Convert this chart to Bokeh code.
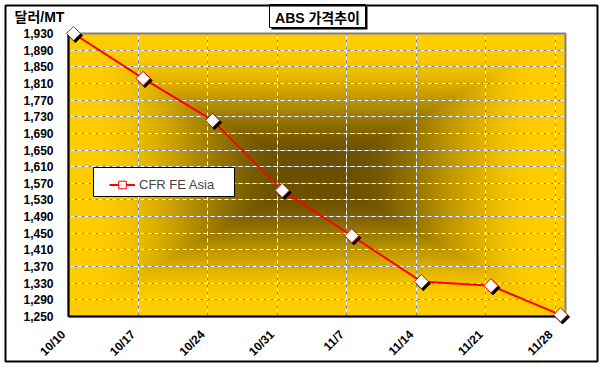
import math
from datetime import date
import numpy as np
from bokeh.plotting import figure
from bokeh.models import (FixedTicker, NumeralTickFormatter, Grid, Label, Legend,
                          LegendItem, Range1d, BoxAnnotation, ColumnDataSource,
                          LinearAxis)
from bokeh.transform import dodge
from bokeh.embed import file_html
from bokeh.resources import INLINE

# ---------------- data ----------------
dates = ["10/10", "10/17", "10/24", "10/31", "11/7", "11/14", "11/21", "11/28"]
prices = [1930, 1822, 1721, 1553, 1444, 1334, 1324, 1254]
y_ticks = [1250, 1290, 1330, 1370, 1410, 1450, 1490, 1530, 1570, 1610,
           1650, 1690, 1730, 1770, 1810, 1850, 1890, 1930]
year = 2008
series_name = "CFR FE Asia"
title_text = "ABS 가격추이"
unit_text = "달러/MT"

# ---------------- derived ----------------
def to_date(s):
    m, d = s.split("/")
    return date(year, int(m), int(d))

start = to_date(dates[0])
day_idx = [(to_date(s) - start).days for s in dates]
x_pos = [d + 0.5 for d in day_idx]          # centre of each day slot
x_end = day_idx[-1] + 1
y_lo, y_hi = y_ticks[0], y_ticks[-1]

# layout (canvas pixels); the frame is the whole canvas
W, H = 600, 368
PL, PR, PT, PB = 68, 565, 33, 316             # value-area edges
xs = (PR - PL) / x_end
ys = (PB - PT) / (y_hi - y_lo)
x_range = Range1d(0 - PL / xs, x_end + (W - PR) / xs)
y_range = Range1d(y_lo - (H - PB) / ys, y_hi + PT / ys)

FONT = "Liberation Sans, Noto Sans CJK KR"

p = figure(width=W, height=H, output_backend="svg", toolbar_location=None,
           x_range=x_range, y_range=y_range,
           min_border_left=0, min_border_right=0, min_border_top=0,
           min_border_bottom=0, title=None)
p.border_fill_color = "white"
p.background_fill_color = "white"
p.outline_line_color = None

# gradient background (rectangular "from centre" fill, dark olive -> gold)
ny, nx = PB - PT, PR - PL
yy = np.linspace(-1, 1, ny)[:, None]
xx = np.linspace(-1, 1, nx)[None, :]
t = np.maximum(np.abs(xx), np.abs(yy))
s = np.clip((t - 0.1) / 0.8, 0, 1)
g = s * s * (3 - 2 * s)
dark = (106, 80, 0)
gold = (255, 204, 0)
img = np.empty((ny, nx), dtype=np.uint32)
v = img.view(dtype=np.uint8).reshape((ny, nx, 4))
for c in range(3):
    v[..., c] = (dark[c] + (gold[c] - dark[c]) * g).astype(np.uint8)
v[..., 3] = 255
p.image_rgba(image=[img], x=0, y=y_lo, dw=x_end, dh=y_hi - y_lo, level="image")

# grids: grey base + white dashes
p.xgrid.ticker = FixedTicker(ticks=day_idx)
p.ygrid.ticker = FixedTicker(ticks=y_ticks)
for gr in (p.xgrid, p.ygrid):
    gr.grid_line_color = "#808080"
    gr.grid_line_width = 1
p.add_layout(Grid(dimension=0, ticker=FixedTicker(ticks=day_idx),
                  grid_line_color="white", grid_line_dash="4 3"))
p.add_layout(Grid(dimension=1, ticker=FixedTicker(ticks=y_ticks),
                  grid_line_color="white", grid_line_dash="4 3"))

# white masks outside the value area (hide grid overshoot)
for kw in (dict(right=0), dict(left=x_end), dict(bottom=y_hi), dict(top=y_lo)):
    p.add_layout(BoxAnnotation(fill_color="white", fill_alpha=1, line_alpha=0,
                               level="underlay", **kw))
# grey border of the value area (top / right visible)
p.add_layout(BoxAnnotation(left=0, right=x_end, bottom=y_lo, top=y_hi,
                           fill_alpha=0, line_color="#808080", line_width=2,
                           line_alpha=1, level="underlay"))

def style_axis(ax, size="12px"):
    ax.major_tick_out = 0
    ax.major_tick_in = 0
    ax.minor_tick_out = 0
    ax.minor_tick_in = 0
    ax.major_label_text_font = FONT
    ax.major_label_text_font_style = "bold"
    ax.major_label_text_font_size = size
    ax.major_label_text_color = "black"

# axes pinned to the value area
p.xaxis.fixed_location = y_lo
p.yaxis.fixed_location = 0
p.xaxis.bounds = (0, x_end)
p.yaxis.bounds = (y_lo, y_hi)
p.xaxis.ticker = FixedTicker(ticks=day_idx)
p.xaxis.major_label_overrides = {d: "" for d in day_idx}   # labels drawn below
p.yaxis.ticker = FixedTicker(ticks=y_ticks)
p.yaxis.formatter = NumeralTickFormatter(format="0,0")
for ax in (p.xaxis[0], p.yaxis[0]):
    ax.axis_line_color = "black"
    ax.axis_line_width = 2
    style_axis(ax)
p.yaxis.major_label_standoff = 15

# date labels (rotated) on a label-only axis slightly below the x axis line
p.extra_x_ranges = {"lab": Range1d(x_range.start + 5 / xs, x_range.end + 5 / xs)}
lab_axis = LinearAxis(x_range_name="lab", fixed_location=y_lo - 10 / ys,
                      ticker=FixedTicker(ticks=day_idx),
                      major_label_overrides={d: s for d, s in zip(day_idx, dates)},
                      major_label_orientation=math.pi / 4,
                      axis_line_alpha=0, major_label_standoff=6)
style_axis(lab_axis)
p.add_layout(lab_axis, "below")

src = ColumnDataSource(dict(x=x_pos, y=prices))
line_r = p.line("x", "y", source=src, line_color="red", line_width=2)
p.scatter(x=dodge("x", 0.2, range=p.x_range), y=dodge("y", -5, range=p.y_range),
          source=src, marker="square", angle=math.pi / 4, size=10,
          fill_color="black", line_color="black", level="annotation")
mk_r = p.scatter("x", "y", source=src, marker="square", angle=math.pi / 4, size=10,
                 fill_color="white", line_color="red", line_width=1, level="annotation")

# legend box + legend
p.add_layout(BoxAnnotation(left=93, right=234, top=167, bottom=196,
                           left_units="canvas", right_units="canvas",
                           top_units="canvas", bottom_units="canvas",
                           fill_color="white", fill_alpha=1,
                           line_color="black", line_width=1, line_alpha=1))
legend = Legend(items=[LegendItem(label=series_name, renderers=[line_r, mk_r])],
                location=(104, H - 199), border_line_alpha=0, background_fill_alpha=0,
                label_text_font=FONT, label_text_font_size="13px",
                glyph_width=26, glyph_height=19, label_height=19,
                label_standoff=4, padding=5, margin=0, spacing=0)
p.add_layout(legend)

# title box with shadow
p.add_layout(BoxAnnotation(left=271, right=367, top=6, bottom=29,
                           left_units="canvas", right_units="canvas",
                           top_units="canvas", bottom_units="canvas",
                           fill_color="black", fill_alpha=1, line_alpha=0))
p.add_layout(BoxAnnotation(left=269, right=365, top=4, bottom=27,
                           left_units="canvas", right_units="canvas",
                           top_units="canvas", bottom_units="canvas",
                           fill_color="white", fill_alpha=1,
                           line_color="black", line_width=1, line_alpha=1))
p.add_layout(Label(x=317, y=17, x_units="canvas", y_units="canvas", text=title_text,
                   text_align="center", text_baseline="middle",
                   text_font=FONT, text_font_style="bold",
                   text_font_size="14px", text_color="black"))
# unit label
p.add_layout(Label(x=14, y=16, x_units="canvas", y_units="canvas", text=unit_text,
                   text_align="left", text_baseline="middle",
                   text_font=FONT, text_font_style="bold",
                   text_font_size="14px", text_color="black"))

# outer chart border
p.add_layout(BoxAnnotation(left=5, right=597, top=5, bottom=361,
                           left_units="canvas", right_units="canvas",
                           top_units="canvas", bottom_units="canvas",
                           fill_alpha=0, line_color="black", line_width=2, line_alpha=1))

open("out.html", "w").write(file_html(p, INLINE))
